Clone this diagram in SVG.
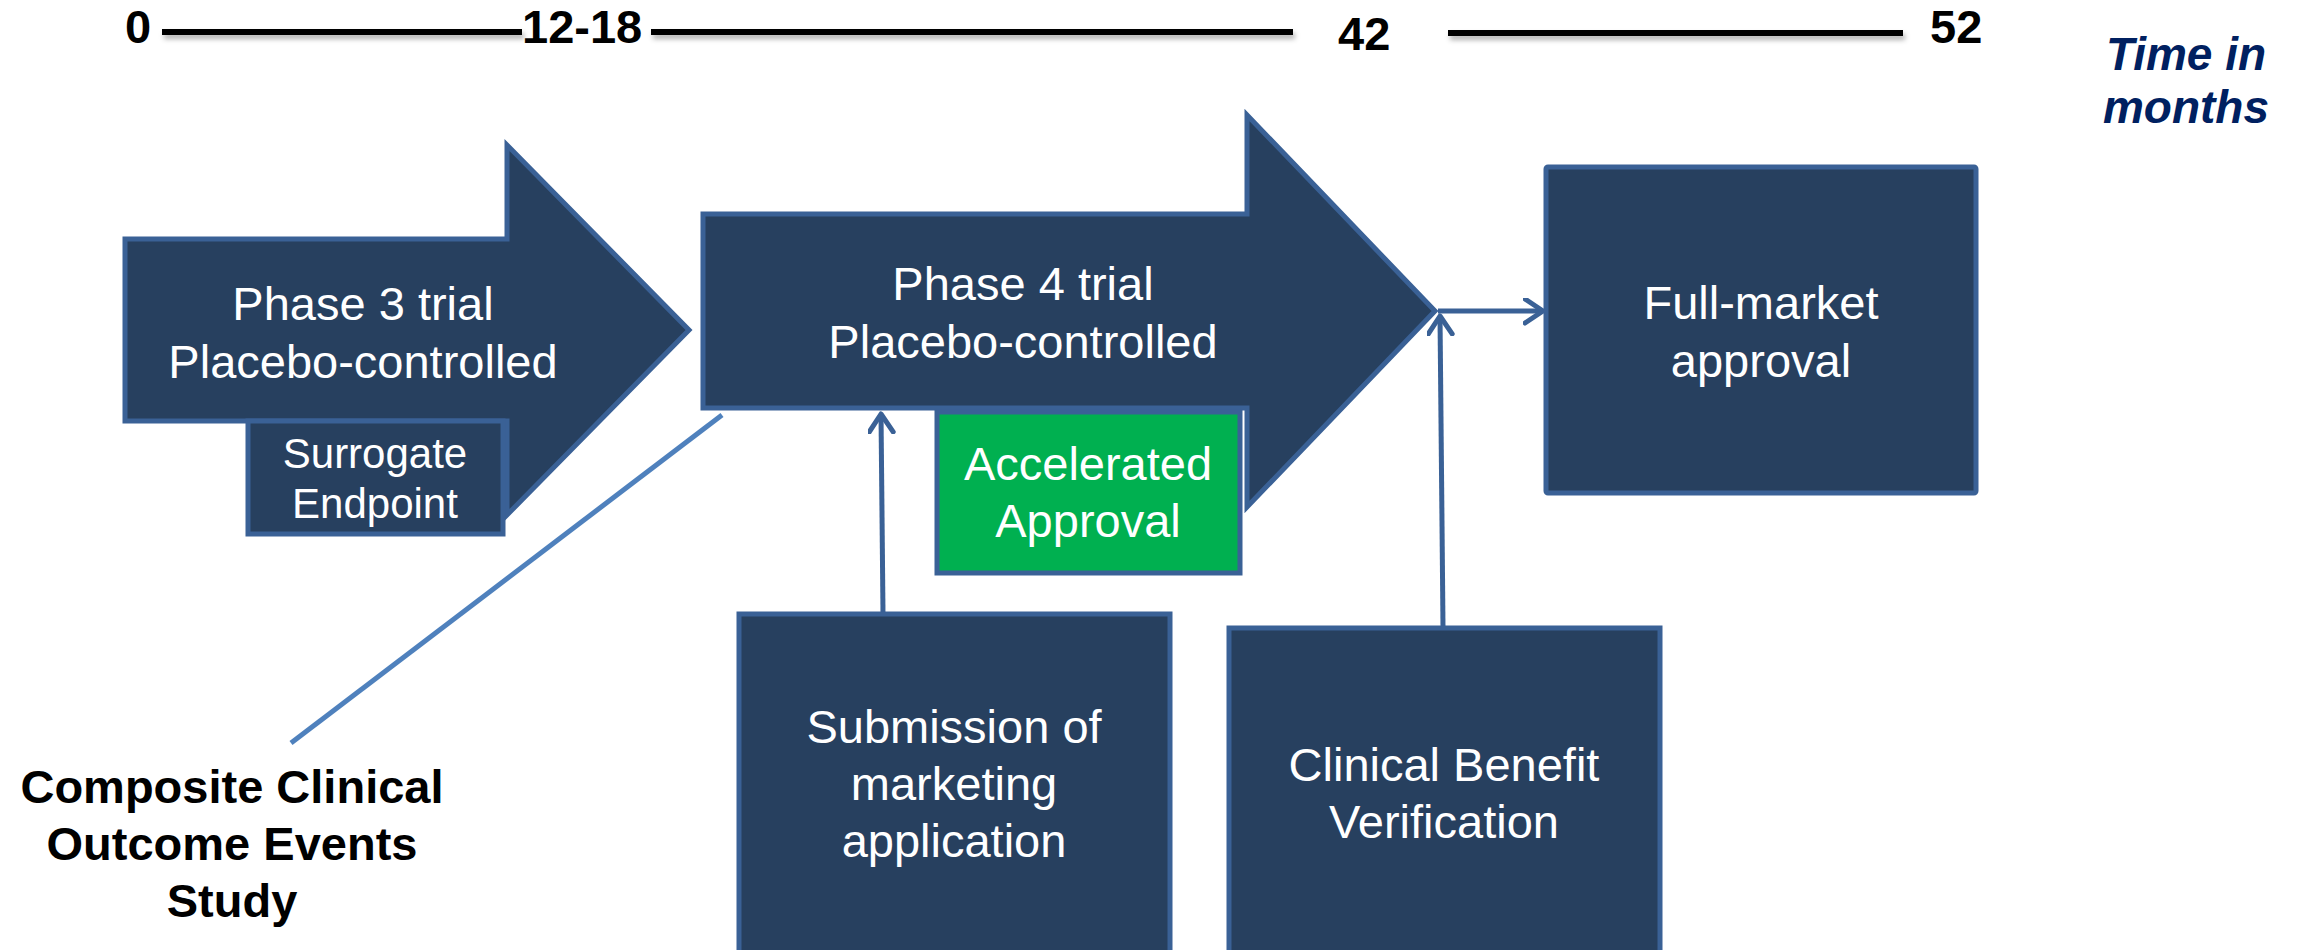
<svg xmlns="http://www.w3.org/2000/svg" width="2300" height="950" viewBox="0 0 2300 950">
<style>
  .node { fill: #27405F; stroke: #3A6196; stroke-width: 5; stroke-linejoin: miter; }
  .green { fill: #00B050; stroke: #3A6196; stroke-width: 5; }
  .wt { font-family: "Liberation Sans", Arial, sans-serif; font-size: 47px; fill: #FFFFFF; text-anchor: middle; }
  .wts { font-family: "Liberation Sans", Arial, sans-serif; font-size: 42px; fill: #FFFFFF; text-anchor: middle; }
  .num { font-family: "Liberation Sans", Arial, sans-serif; font-size: 47px; font-weight: bold; fill: #000000; }
  .tl { stroke: #000000; stroke-width: 6; }
  .tls { stroke: #000000; stroke-width: 6; opacity: 0.3; }
  .conn { stroke: #3A6196; stroke-width: 5; fill: none; }
  .diag { stroke: #4F81BD; stroke-width: 5; fill: none; }
  .blk { font-family: "Liberation Sans", Arial, sans-serif; font-size: 47px; font-weight: bold; fill: #000000; text-anchor: middle; }
  .time { font-family: "Liberation Sans", Arial, sans-serif; font-size: 46px; font-weight: bold; font-style: italic; fill: #002060; text-anchor: middle; }
</style>
<defs>
  <marker id="open" markerUnits="userSpaceOnUse" markerWidth="30" markerHeight="30" refX="20" refY="13" orient="auto">
    <path d="M2,1 L20,13 L2,25" fill="none" stroke="#3A6196" stroke-width="5" stroke-linecap="round" stroke-linejoin="round"/>
  </marker>
  <filter id="blur" filterUnits="userSpaceOnUse" x="0" y="0" width="2300" height="120">
    <feGaussianBlur stdDeviation="2.5"/>
  </filter>
</defs>

<g id="timeline">
  <g filter="url(#blur)">
    <line class="tls" x1="164" y1="36" x2="524" y2="36"/>
    <line class="tls" x1="653" y1="36" x2="1295" y2="36"/>
    <line class="tls" x1="1450" y1="37" x2="1905" y2="37"/>
  </g>
  <text class="num" x="125" y="43">0</text>
  <line class="tl" x1="162" y1="32" x2="522" y2="32"/>
  <text class="num" x="522" y="43">12-18</text>
  <line class="tl" x1="651" y1="32" x2="1293" y2="32"/>
  <text class="num" x="1338" y="50">42</text>
  <line class="tl" x1="1448" y1="33" x2="1903" y2="33"/>
  <text class="num" x="1930" y="43">52</text>
  <text class="time" x="2186" y="70">Time in</text>
  <text class="time" x="2186" y="123">months</text>
</g>

<g id="connectors">
  <line class="diag" x1="722" y1="415" x2="291" y2="743"/>
  <line class="conn" x1="883" y1="613" x2="881" y2="414" marker-end="url(#open)"/>
  <line class="conn" x1="1443" y1="627" x2="1440" y2="316" marker-end="url(#open)"/>
  <line class="conn" x1="1438" y1="311" x2="1543" y2="311" marker-end="url(#open)"/>
</g>

<g id="phase3">
  <polygon class="node" points="125,239 507,239 507,145 689,330 507,515 507,421 125,421"/>
  <text class="wt" x="363" y="320">Phase 3 trial</text>
  <text class="wt" x="363" y="378">Placebo-controlled</text>
</g>

<g id="surrogate">
  <rect class="node" x="248" y="421" width="255" height="113"/>
  <text class="wts" x="375" y="468">Surrogate</text>
  <text class="wts" x="375" y="518">Endpoint</text>
</g>

<g id="phase4">
  <polygon class="node" points="703,214 1247,214 1247,115 1435,311 1247,507 1247,408 703,408"/>
  <text class="wt" x="1023" y="300">Phase 4 trial</text>
  <text class="wt" x="1023" y="358">Placebo-controlled</text>
</g>

<g id="accelerated">
  <rect class="green" x="937" y="412" width="303" height="161"/>
  <text class="wt" x="1088" y="480">Accelerated</text>
  <text class="wt" x="1088" y="537">Approval</text>
</g>

<g id="fullmarket">
  <rect class="node" x="1546" y="167" width="430" height="326" rx="2"/>
  <text class="wt" x="1761" y="319">Full-market</text>
  <text class="wt" x="1761" y="377">approval</text>
</g>

<g id="submission">
  <rect class="node" x="739" y="614" width="431" height="350"/>
  <text class="wt" x="954" y="743">Submission of</text>
  <text class="wt" x="954" y="800">marketing</text>
  <text class="wt" x="954" y="857">application</text>
</g>

<g id="clinical">
  <rect class="node" x="1229" y="628" width="431" height="340"/>
  <text class="wt" x="1444" y="781">Clinical Benefit</text>
  <text class="wt" x="1444" y="838">Verification</text>
</g>

<g id="composite">
  <text class="blk" x="232" y="803">Composite Clinical</text>
  <text class="blk" x="232" y="860">Outcome Events</text>
  <text class="blk" x="232" y="917">Study</text>
</g>
</svg>
